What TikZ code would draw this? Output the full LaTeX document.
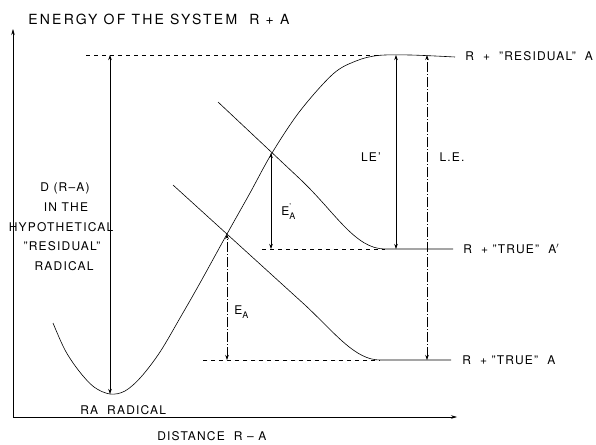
\documentclass[tikz,border=0pt]{standalone}
\usepackage{fontspec}
\setmainfont{TeX Gyre Heros}
\newfontfamily\labf[LetterSpace=10,Ligatures=TeX]{TeX Gyre Heros}
\newfontfamily\titf[LetterSpace=16,Ligatures=TeX]{TeX Gyre Heros}
\usetikzlibrary{arrows.meta}
\newcommand{\subA}{\raisebox{-0.7ex}{\fontsize{9}{10}\labf A}}
\begin{document}
\begin{tikzpicture}[x=1pt,y=-1pt,
  line width=0.6pt,
  lab/.style={inner sep=0pt,font=\fontsize{12}{14}\labf},
  ttl/.style={inner sep=0pt,font=\fontsize{14}{16}\titf},
  dbl/.style={{Stealth[length=5pt,width=3.5pt]}-{Stealth[length=5pt,width=3.5pt]}},
  axis/.style={-{Stealth[length=6pt,width=3.5pt]}},
  lvl/.style={dash pattern=on 4pt off 4pt},
  dashdot/.style={dash pattern=on 10pt off 2pt on 1pt off 2pt}]
\useasboundingbox (0,0) rectangle (596,444);

% axes
\coordinate (O) at (13,417);
\coordinate (Ytop) at (13,29);
\coordinate (Xend) at (457,417);
\draw[axis] (O) -- (Ytop);
\draw[axis] (O) -- (Xend);
\node[ttl, anchor=west] (title) at (28,19) {ENERGY OF THE SYSTEM\ \ R + A};
\node[lab, anchor=west] (dist) at (157,436) {DISTANCE\ \ R \textendash\ A};

% Morse curve (RA radical)
\draw plot[smooth, tension=0.55] coordinates {(53,323) (65,350) (79,371) (94,387) (110,394) (125,391) (141,377) (160,352) (180,318) (200,283) (227,234) (250,193) (272,153) (300,111) (333,74) (356,61) (378,55.5) (410,55) (455,57)};

% repulsive lines
\draw (218,102) -- (300,179) .. controls (335,212) and (355,249) .. (385,249) -- (453,249);
\draw (173,185) -- (305,305) .. controls (335,333) and (355,360) .. (380,360) -- (451,360);

% dashed levels
\draw[lvl] (86,55) -- (378,55);
\draw[lvl] (262,249) -- (385,249);
\draw[lvl] (203,360) -- (380,360);

% coordinates for arrows
\coordinate (Dtop) at (110,55);
\coordinate (Dbot) at (110,394);
\coordinate (EApT) at (271,153);
\coordinate (EApB) at (271,249);
\coordinate (EAT) at (227,234);
\coordinate (EAB) at (227,360);
\coordinate (LEpT) at (396,55);
\coordinate (LEpB) at (396,249);
\coordinate (LET) at (427,55);
\coordinate (LEB) at (427,360);

\draw[dbl] (Dbot) -- (Dtop);
\draw[dbl] (EApB) -- (EApT);
\draw[dbl,dashdot] (EAB) -- (EAT);
\draw[dbl] (LEpB) -- (LEpT);
\draw[dbl,dashdot] (LEB) -- (LET);

% labels
\node[lab] (d1) at (65,188) {D (R\textendash A)};
\node[lab] (d2) at (66,207) {IN THE};
\node[lab] (d3) at (61,227) {HYPOTHETICAL};
\node[lab] (d4) at (62,246) {"RESIDUAL"};
\node[lab] (d5) at (64,266) {RADICAL};
\node[lab, anchor=west] (ra) at (80,410) {RA\ \ RADICAL};
\node[lab, anchor=west] (eap) at (281,212) {E\rlap{\raisebox{0.9ex}{\footnotesize '}}\subA};
\node[lab, anchor=west] (ea) at (234,312) {E\subA};
\node[lab] (lep) at (371,157) {LE'};
\node[lab] (le) at (452,157) {L.E.};
\node[lab, anchor=west] (res) at (465,56) {R\ \ +\ \ "RESIDUAL"\ \ A};
\node[lab, anchor=west] (trp) at (463,249) {R\ \ +\ "TRUE"\ \ A$'$};
\node[lab, anchor=west] (tr) at (462,360) {R\ \ +\ "TRUE"\ \ A};
\end{tikzpicture}
\end{document}
